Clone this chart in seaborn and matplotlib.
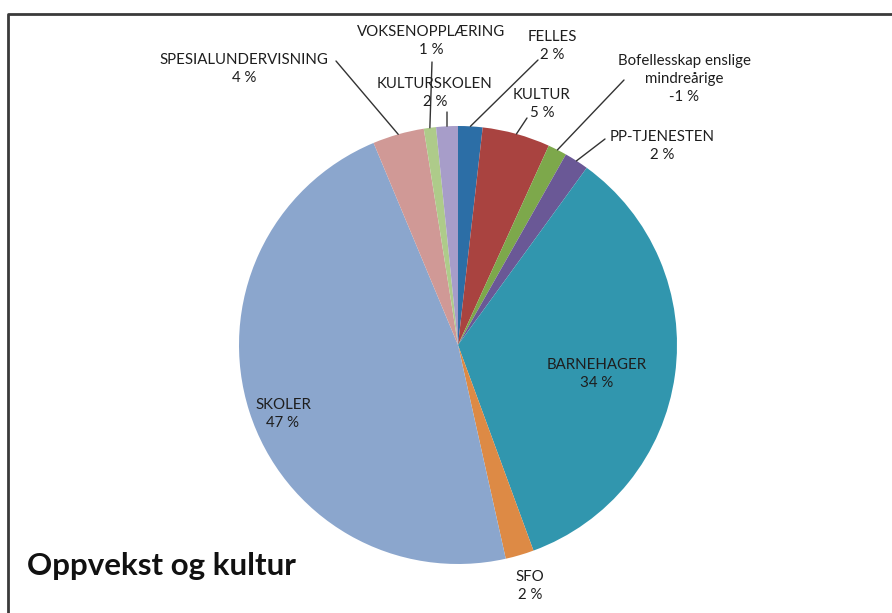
import numpy as np
import matplotlib
matplotlib.use('Agg')
import matplotlib.pyplot as plt
import seaborn as sns

# data (shares in %, clockwise from 12 o'clock)
names = ['FELLES', 'KULTUR', 'Bofellesskap enslige\nmindreårige', 'PP-TJENESTEN',
         'BARNEHAGER', 'SFO', 'SKOLER', 'SPESIALUNDERVISNING', 'VOKSENOPPLÆRING',
         'KULTURSKOLEN']
values = [1.8, 5.0, -1.4, 1.8, 34.4, 2.1, 47.2, 3.8, 0.9, 1.6]
colors = ['#2c6ea6', '#a94340', '#7da84b', '#6a5896', '#3196ae',
          '#dd8a45', '#8ba6cd', '#d09996', '#aecb8a', '#a79dc9']

sns.set_theme(style='white')
plt.rcParams['font.family'] = ['Lato', 'DejaVu Sans']

W, H = 892, 613
fig = plt.figure(figsize=(W / 100, H / 100), dpi=100)
ax = fig.add_axes([0, 0, 1, 1])

cx, cy, r = 458, H - 345, 219
sizes = np.abs(values)
wedges, _ = ax.pie(sizes, colors=colors, startangle=90, counterclock=False,
                   center=(cx, cy), radius=r, wedgeprops=dict(linewidth=0))
ax.set_xlim(0, W)
ax.set_ylim(0, H)
ax.set_aspect('equal')
ax.axis('off')

# label placement in pixel coords (x, y from top)
label_pos = {
    'FELLES': (552, 46),
    'KULTUR': (542, 104),
    'Bofellesskap enslige\nmindreårige': (684, 79),
    'PP-TJENESTEN': (662, 146),
    'BARNEHAGER': (597, 374),
    'SFO': (530, 586),
    'SKOLER': (283, 414),
    'SPESIALUNDERVISNING': (244, 69),
    'VOKSENOPPLÆRING': (431, 41),
    'KULTURSKOLEN': (435, 93),
}
leader_start = {
    'FELLES': (538, 60),
    'KULTUR': (527, 118),
    'Bofellesskap enslige\nmindreårige': (624, 80),
    'PP-TJENESTEN': (605, 139),
    'SPESIALUNDERVISNING': (336, 61),
    'VOKSENOPPLÆRING': (432, 62),
    'KULTURSKOLEN': (447, 112),
}
total = sizes.sum()
for w, name, v in zip(wedges, names, values):
    pct = round(v / total * 100)
    x, y = label_pos[name]
    ax.text(x, H - y, f'{name}\n{pct} %', ha='center', va='center',
            fontsize=10.8, color='#1e1e1e', linespacing=1.4)
    if name in leader_start:
        ang = np.deg2rad((w.theta1 + w.theta2) / 2)
        ex, ey = cx + r * np.cos(ang), cy + r * np.sin(ang)
        sx, sy = leader_start[name]
        ax.plot([sx, ex], [H - sy, ey], color='#333333', lw=1)

# frame (top and left edges)
ax.plot([8, 8, W], [0, H - 14, H - 14], color='#3a3a3a', lw=2, solid_capstyle='butt')

ax.text(27, H - 566, 'Oppvekst og kultur', ha='left', va='center',
        fontsize=22.5, fontweight='bold', color='#111111')

fig.savefig('out.png', dpi=100)
